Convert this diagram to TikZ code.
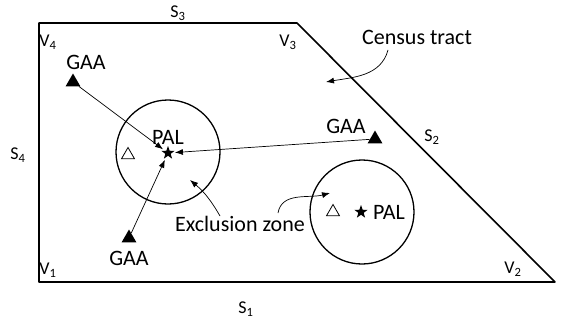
\documentclass[tikz,border=0pt]{standalone}
\usepackage{fontspec}
\setmainfont{Carlito}
\usetikzlibrary{shapes.geometric,arrows.meta}
\begin{document}
\begin{tikzpicture}[x=1pt,y=1pt,
  lbl/.style={font=\fontsize{22}{24}\selectfont, inner sep=0pt},
  sv/.style={font=\fontsize{18}{20}\selectfont, inner sep=0pt},
  gaa/.style={regular polygon, regular polygon sides=3, fill=black, minimum size=17pt, inner sep=0pt},
  otri/.style={regular polygon, regular polygon sides=3, draw=black, line width=0.8pt, minimum size=15pt, inner sep=0pt},
  pal/.style={star, star points=5, star point ratio=2.5, fill=black, minimum size=14pt, inner sep=0pt, outer sep=1.5pt},
  zone/.style={circle, draw=black, line width=1.3pt, minimum size=104pt, inner sep=0pt},
  arr/.style={-{Latex[length=8pt,width=6pt]}, line width=0.7pt}
]
\useasboundingbox (0,0) rectangle (564,322);
% census tract
\draw[line width=1.6pt, line join=round] (39,299) -- (297,299) -- (555,40) -- (39,40) -- cycle;
\node[sv] (s3) at (178,309) {S\textsubscript{3}};
\node[sv] (v4) at (48,280) {V\textsubscript{4}};
\node[sv] (v3) at (288,280) {V\textsubscript{3}};
\node[sv] (s4) at (18,167) {S\textsubscript{4}};
\node[sv] (s2) at (432,185) {S\textsubscript{2}};
\node[sv] (v1) at (48,52) {V\textsubscript{1}};
\node[sv] (v2) at (513,53) {V\textsubscript{2}};
\node[sv] (s1) at (246,13) {S\textsubscript{1}};
% zones
\node[zone] (z1) at (168,170) {};
\node[zone] (z2) at (362,110) {};
\node[pal] (p1) at (168,169) {};
\node[lbl] (p1l) at (168,185) {PAL};
\node[otri] (o1) at (128,167) {};
\node[pal] (p2) at (361,110) {};
\node[lbl] (p2l) at (389,110) {PAL};
\node[otri] (o2) at (333,110) {};
% GAAs
\node[gaa] (g1) at (73,240) {};
\node[lbl] (g1l) at (86,260) {GAA};
\node[gaa] (g2) at (375,183) {};
\node[lbl] (g2l) at (346,196) {GAA};
\node[gaa] (g3) at (129,84) {};
\node[lbl] (g3l) at (129,64) {GAA};
\draw[arr] (g1) -- (p1);
\draw[arr] (g2) -- (p1);
\draw[arr] (g3) -- (p1);
% labels with pointers
\node[lbl] (ez) at (240,98) {Exclusion zone};
\coordinate (ez1) at (220,106);
\coordinate (ez2) at (278,109);
\draw[arr] (ez1) to[out=120,in=-40] (190,142);
\draw[arr] (ez2) to[out=80,in=195] (330,129);
\node[lbl] (ct) at (417,285) {Census tract};
\coordinate (ct1) at (388,272);
\draw[arr] (ct1) to[out=-105,in=10] (326,240);
\end{tikzpicture}
\end{document}
